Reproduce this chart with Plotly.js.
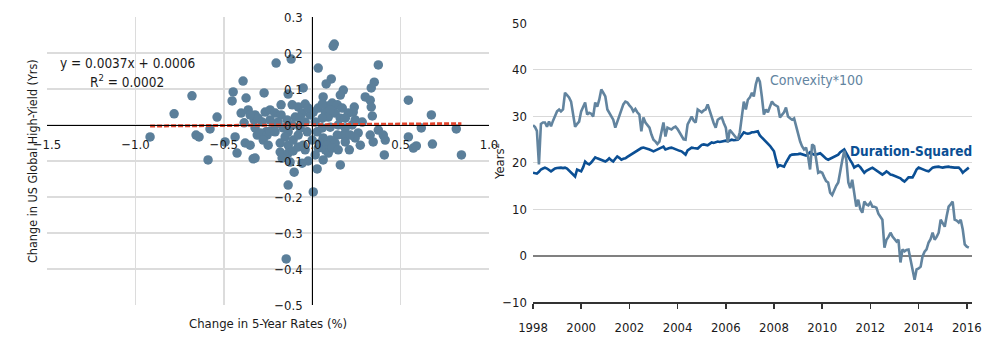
<!DOCTYPE html>
<html><head><meta charset="utf-8">
<script src="https://cdn.plot.ly/plotly-3.0.1.min.js"></script>
<style>html,body{margin:0;padding:0;background:#fff}#chart{width:1000px;height:341px}</style>
</head><body><div id="chart"></div>
<script>
// ---------- Left panel: scatter ----------
const rateChange = [
-0.917,-0.781,-0.680,-0.657,-0.640,-0.589,-0.578,-0.538,-0.493,-0.425,-0.391,-0.447,-0.453,-0.374,-0.402,-0.362,-0.385,-0.328,-0.436,-0.379,-0.334,-0.311,-0.323,-0.351,-0.261,
0.125,0.119,-0.204,-0.119,0.034,0.374,0.108,0.079,-0.272,-0.136,-0.051,0.176,0.159,0.351,0.334,0.300,0.328,0.334,0.340,0.062,
-0.323,-0.306,-0.266,-0.238,-0.210,-0.176,-0.176,-0.113,-0.079,-0.040,0.006,0.034,0.085,0.113,0.142,0.170,0.238,0.232,0.204,0.074,
0.091,0.130,0.057,-0.011,-0.057,-0.096,-0.142,-0.193,-0.238,-0.283,-0.294,-0.255,-0.277,-0.238,-0.210,-0.136,-0.153,-0.181,-0.136,-0.108,
-0.079,-0.028,0.028,0.057,0.102,0.147,0.187,0.226,0.260,0.243,0.176,0.142,0.102,0.062,0.045,0.085,0.130,0.187,0.210,0.328,
0.345,0.374,0.402,0.413,0.408,-0.181,-0.136,-0.108,-0.079,-0.170,-0.125,-0.040,-0.023,0.017,0.074,0.091,0.062,0.159,0.028,-0.136,
0.006,-0.323,-0.147,-0.057,-0.102,0.113,
-0.040,0.017,-0.068,0.159,0.243,0.283,-0.068,-0.023,0.057,0.102,0.187,0.215,0.000,-0.051,0.034,0.147,0.272,-0.210,-0.164,-0.113,-0.249,-0.351,
0.544,0.674,0.617,0.544,0.572,0.589,0.680,0.815,0.844
];
const hyDurationChange = [
-0.033,0.031,0.081,-0.028,-0.033,-0.097,-0.011,0.022,-0.047,-0.078,0.122,0.092,0.067,0.075,0.033,0.042,0.006,0.014,-0.033,-0.050,-0.094,-0.028,-0.008,-0.056,-0.019,
0.225,0.219,0.172,0.183,0.158,0.167,0.128,0.114,0.089,0.086,0.103,0.097,0.083,0.119,0.103,0.078,0.069,0.050,0.025,0.078,
0.028,0.019,0.036,0.042,0.033,0.056,0.028,0.056,0.050,0.058,0.036,0.047,0.053,0.061,0.056,0.047,0.050,0.036,0.033,0.036,
0.022,0.033,0.019,0.028,0.033,0.022,0.014,0.008,0.014,0.008,-0.022,-0.028,-0.042,-0.017,-0.019,-0.019,-0.033,-0.050,-0.056,-0.042,
-0.028,-0.019,-0.019,-0.008,-0.006,0.000,-0.008,0.000,-0.022,-0.036,-0.028,-0.028,-0.042,-0.036,-0.050,-0.056,-0.050,-0.047,-0.069,-0.028,
-0.047,-0.014,-0.028,-0.042,-0.083,-0.075,-0.078,-0.072,-0.061,-0.092,-0.103,-0.069,-0.100,-0.083,-0.069,-0.078,-0.097,-0.111,-0.122,-0.167,
-0.186,-0.092,-0.372,-0.106,-0.131,-0.064,
0.008,0.008,-0.008,0.019,0.014,0.008,0.019,0.047,0.058,0.042,0.019,-0.028,-0.042,-0.056,-0.064,-0.069,-0.056,0.000,-0.008,0.000,-0.056,0.028,
0.069,0.028,-0.008,-0.033,-0.064,-0.058,-0.053,-0.011,-0.083
];
const trendSlope = 0.0037;
const trendIntercept = 0.0006;
const trendR2 = 0.0002;

// ---------- Right panel: time series ----------
const months = [
'1998-01','1998-02','1998-03','1998-04','1998-05','1998-06','1998-07','1998-08','1998-09','1998-10','1998-11','1998-12',
'1999-01','1999-02','1999-03','1999-04','1999-05','1999-06','1999-07','1999-08','1999-09','1999-10','1999-11','1999-12',
'2000-01','2000-02','2000-03','2000-04','2000-05','2000-06','2000-07','2000-08','2000-09','2000-10','2000-11','2000-12',
'2001-01','2001-02','2001-03','2001-04','2001-05','2001-06','2001-07','2001-08','2001-09','2001-10','2001-11','2001-12',
'2002-01','2002-02','2002-03','2002-04','2002-05','2002-06','2002-07','2002-08','2002-09','2002-10','2002-11','2002-12',
'2003-01','2003-02','2003-03','2003-04','2003-05','2003-06','2003-07','2003-08','2003-09','2003-10','2003-11','2003-12',
'2004-01','2004-02','2004-03','2004-04','2004-05','2004-06','2004-07','2004-08','2004-09','2004-10','2004-11','2004-12',
'2005-01','2005-02','2005-03','2005-04','2005-05','2005-06','2005-07','2005-08','2005-09','2005-10','2005-11','2005-12',
'2006-01','2006-02','2006-03','2006-04','2006-05','2006-06','2006-07','2006-08','2006-09','2006-10','2006-11','2006-12',
'2007-01','2007-02','2007-03','2007-04','2007-05','2007-06','2007-07','2007-08','2007-09','2007-10','2007-11','2007-12',
'2008-01','2008-02','2008-03','2008-04','2008-05','2008-06','2008-07','2008-08','2008-09','2008-10','2008-11','2008-12',
'2009-01','2009-02','2009-03','2009-04','2009-05','2009-06','2009-07','2009-08','2009-09','2009-10','2009-11','2009-12',
'2010-01','2010-02','2010-03','2010-04','2010-05','2010-06','2010-07','2010-08','2010-09','2010-10','2010-11','2010-12',
'2011-01','2011-02','2011-03','2011-04','2011-05','2011-06','2011-07','2011-08','2011-09','2011-10','2011-11','2011-12',
'2012-01','2012-02','2012-03','2012-04','2012-05','2012-06','2012-07','2012-08','2012-09','2012-10','2012-11','2012-12',
'2013-01','2013-02','2013-03','2013-04','2013-05','2013-06','2013-07','2013-08','2013-09','2013-10','2013-11','2013-12',
'2014-01','2014-02','2014-03','2014-04','2014-05','2014-06','2014-07','2014-08','2014-09','2014-10','2014-11','2014-12',
'2015-01','2015-02','2015-03','2015-04','2015-05','2015-06','2015-07','2015-08','2015-09','2015-10','2015-11','2015-12',
'2016-01','2016-02'
];
const convexity100 = [
28.0,27.6,26.8,19.6,28.3,28.6,28.6,27.7,28.8,27.8,29.0,29.9,
31.0,31.4,31.0,31.4,35.0,34.5,34.0,33.1,29.9,27.7,28.3,28.8,
31.0,32.0,32.9,30.3,30.7,30.5,29.9,32.9,32.0,33.5,35.7,35.0,
34.2,31.4,30.8,30.0,29.2,27.5,28.8,30.0,31.4,32.5,33.1,32.9,
32.3,31.8,31.0,31.5,30.8,30.3,26.7,29.7,28.6,28.0,27.5,26.0,
24.9,24.5,24.0,24.5,26.5,28.6,25.6,27.5,27.3,27.1,27.5,27.7,
27.2,26.5,25.6,25.0,24.9,28.2,29.0,29.9,29.0,28.6,31.4,31.0,
30.8,31.2,31.4,32.5,31.0,29.9,28.5,27.5,29.2,29.5,29.7,28.5,
27.5,24.3,27.0,26.5,26.0,25.5,24.9,26.5,30.0,33.1,31.4,33.5,
34.0,35.0,34.2,36.8,38.3,37.4,34.2,30.3,31.4,30.8,32.0,33.1,
32.5,32.3,32.0,29.7,30.2,30.8,31.8,29.9,29.5,29.2,29.5,27.7,
26.0,24.5,23.5,22.8,23.2,21.3,18.5,23.9,23.5,20.6,17.8,18.0,
17.8,16.8,16.0,15.7,13.5,13.0,14.2,15.0,15.7,18.5,20.5,22.5,
20.6,15.7,14.5,16.3,13.1,10.5,12.0,10.0,9.2,11.6,11.0,10.8,
11.4,10.5,10.5,10.3,9.0,8.4,7.7,1.7,3.4,4.0,4.9,4.1,
3.5,3.0,3.4,-1.5,1.3,0.9,1.2,1.3,-0.9,-3.0,-5.2,-3.0,
-2.8,-2.4,-0.2,0.8,1.3,2.8,3.5,4.9,3.4,4.0,4.9,7.7,
6.8,6.2,8.4,10.5,11.0,11.6,7.7,7.5,7.1,7.7,5.6,2.4,
1.9,1.7
];
const durationSquared = [
17.8,17.7,17.6,18.0,18.5,18.7,18.9,18.7,18.4,18.1,18.4,18.7,
18.8,18.9,18.9,18.8,18.9,18.7,18.3,17.8,17.3,17.0,18.5,18.3,
18.1,19.0,20.2,19.8,19.6,20.0,20.5,21.1,20.9,20.7,20.6,20.4,
20.2,20.5,20.9,20.5,20.2,20.8,21.3,21.0,20.6,20.8,20.9,21.2,
21.5,21.7,22.0,22.4,22.6,22.9,23.1,23.2,23.1,23.0,22.8,22.6,
22.4,22.6,22.8,23.0,23.2,23.4,22.8,23.0,23.1,23.2,23.0,22.8,
22.6,22.5,22.4,22.0,21.7,22.6,23.0,23.2,23.1,23.0,23.0,23.4,
23.8,23.9,23.8,23.7,24.0,24.3,24.2,24.4,24.5,24.4,24.5,24.6,
24.7,24.6,24.8,24.9,24.8,24.9,24.9,25.3,26.0,26.5,26.3,26.2,
26.3,26.5,26.5,26.6,26.7,25.8,25.4,25.0,24.5,24.0,23.6,23.0,
22.4,20.6,19.1,19.4,19.3,19.1,20.0,20.8,21.5,21.7,21.7,21.7,
21.8,21.9,21.8,21.6,21.5,21.8,22.2,21.9,21.7,21.7,21.8,22.0,
21.6,21.1,20.8,20.6,20.8,21.0,21.2,21.5,21.7,22.2,22.5,22.8,
22.0,21.1,20.5,19.8,18.9,19.2,19.4,19.0,18.4,17.8,18.2,18.5,
18.7,18.9,18.6,18.3,18.1,17.8,17.4,17.7,18.1,17.8,17.4,17.3,
17.1,17.0,16.8,16.6,16.2,15.9,16.3,16.8,16.8,16.8,17.6,18.5,
18.9,18.7,18.5,18.3,18.2,18.1,18.5,18.9,19.0,19.1,19.1,19.0,
18.9,19.0,19.1,19.1,19.0,18.9,18.9,18.9,18.9,18.5,17.8,18.2,
18.5,18.9
];

// ---------- layout helpers ----------
const W = 1000, H = 341;
const fx = p => p / W;
const fy = p => 1 - p / H;
const FONT = '"DejaVu Sans Condensed","Liberation Sans Narrow","Liberation Sans",sans-serif';
const TXT = '#1a1a1a';
const FS = 13;

const xDom = [fx(47), fx(489)], xRange = [-1.5, 1.0];
const yDom = [fy(305), fy(17)], yRange = [-0.5, 0.3];
const xZeroPos = xDom[0] + (0 - xRange[0]) / (xRange[1] - xRange[0]) * (xDom[1] - xDom[0]);
const yZeroPos = yDom[0] + (0 - yRange[0]) / (yRange[1] - yRange[0]) * (yDom[1] - yDom[0]);

const xMin = Math.min(...rateChange), xMax = Math.max(...rateChange);
const trendX = [xMin, xMax];
const trendY = trendX.map(v => trendSlope * v + trendIntercept);

const traces = [
  {type:'scatter', mode:'markers', x: rateChange, y: hyDurationChange, xaxis:'x', yaxis:'y',
   marker:{size:9.5, color:'#5B7F9A'}, hoverinfo:'skip'},
  {type:'scatter', mode:'lines', x: trendX, y: trendY, xaxis:'x', yaxis:'y',
   line:{color:'#E2442D', width:3, dash:'5px,2px'}, hoverinfo:'skip'},
  {type:'scatter', mode:'lines', x: months, y: durationSquared, xaxis:'x2', yaxis:'y2',
   line:{color:'#0B4F94', width:2.6}, hoverinfo:'skip'},
  {type:'scatter', mode:'lines', x: months, y: convexity100, xaxis:'x2', yaxis:'y2',
   line:{color:'#62849F', width:2.6}, hoverinfo:'skip'}
];

const tf = {family:FONT, size:FS, color:TXT};
const layout = {
  width: W, height: H, margin:{l:0, r:0, t:0, b:0},
  paper_bgcolor:'#fff', plot_bgcolor:'rgba(0,0,0,0)', showlegend:false,
  font:{family:FONT, size:FS, color:TXT},
  xaxis:{domain:xDom, range:xRange, tick0:0, dtick:0.5, tickformat:'.1f',
    showgrid:true, gridcolor:'#DCDCDC', gridwidth:1.5, zeroline:false,
    showline:true, linecolor:'#000', linewidth:1, anchor:'free', position:yZeroPos,
    ticks:'', ticklabelstandoff:7, tickfont:tf},
  yaxis:{domain:yDom, range:yRange, tick0:0, dtick:0.1, tickformat:'.1f',
    showgrid:true, gridcolor:'#DCDCDC', gridwidth:1.5, zeroline:false,
    showline:true, linecolor:'#000', linewidth:1, anchor:'free', position:xZeroPos,
    ticks:'', ticklabelstandoff:7, tickfont:tf},
  xaxis2:{domain:[fx(533), fx(972)], type:'date', range:['1998-01-01','2016-03-20'],
    tick0:'1998-01-01', dtick:'M24', tickformat:'%Y', showgrid:false, zeroline:false,
    showline:true, linecolor:'#333', linewidth:2, ticks:'outside', ticklen:5, tickwidth:1.5, tickcolor:'#333',
    ticklabelstandoff:7, anchor:'y2', tickfont:tf},
  yaxis2:{domain:[fy(302), fy(23)], range:[-10, 50], dtick:10, tick0:0,
    showgrid:true, gridcolor:'#D9D9D9', gridwidth:1, zeroline:true, zerolinecolor:'#808080', zerolinewidth:2,
    showline:false, ticks:'', ticklabelstandoff:5, anchor:'x2', tickfont:tf},
  annotations:[
    {xref:'paper', yref:'paper', x:fx(32), y:fy(161), text:'Change in US Global High-Yield (Yrs)', textangle:-90,
     showarrow:false, xanchor:'center', yanchor:'middle', font:{family:FONT, size:12.5, color:TXT}},
    {xref:'paper', yref:'paper', x:fx(268), y:fy(323), text:'Change in 5-Year Rates (%)',
     showarrow:false, xanchor:'center', yanchor:'middle', font:{family:FONT, size:13, color:TXT}},
    {xref:'paper', yref:'paper', x:fx(127), y:fy(63),
     text:'y = ' + trendSlope.toFixed(4) + 'x + ' + trendIntercept.toFixed(4),
     showarrow:false, xanchor:'center', yanchor:'middle', font:{family:FONT, size:13.5, color:TXT}},
    {xref:'paper', yref:'paper', x:fx(127), y:fy(81), text:'R<sup>2</sup> = ' + trendR2.toFixed(4),
     showarrow:false, xanchor:'center', yanchor:'middle', font:{family:FONT, size:13.5, color:TXT}},
    {xref:'paper', yref:'paper', x:fx(499), y:fy(162), text:'Years<sup>2</sup>', textangle:-90,
     showarrow:false, xanchor:'center', yanchor:'middle', font:{family:FONT, size:13, color:TXT}},
    {xref:'paper', yref:'paper', x:fx(768), y:fy(80), text:'Convexity*100',
     showarrow:false, xanchor:'left', yanchor:'middle', font:{family:FONT, size:14, color:'#62849F'}},
    {xref:'paper', yref:'paper', x:fx(974), y:fy(151), text:'<b>Duration-Squared</b>',
     showarrow:false, xanchor:'right', yanchor:'middle', font:{family:FONT, size:13.5, color:'#0B4F94'}}
  ]
};

Plotly.newPlot('chart', traces, layout, {staticPlot:true, displayModeBar:false});
</script></body></html>
